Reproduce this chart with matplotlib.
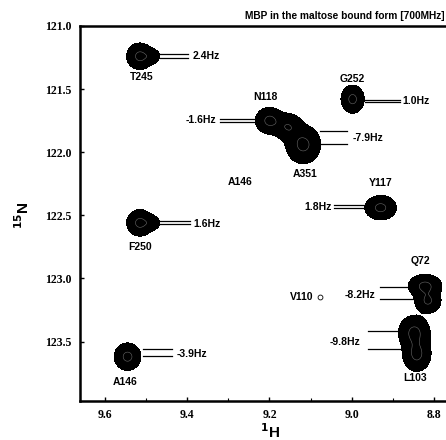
import numpy as np
import matplotlib
matplotlib.use("Agg")
import matplotlib.pyplot as plt

# peak centres (1H ppm, 15N ppm) and widths (ppm)
peak_h = [9.515, 9.485, 8.998, 9.200, 9.155, 9.118, 8.930, 9.515, 9.485, 8.822, 8.815, 8.848, 8.842, 9.545]
peak_n = [121.24, 121.24, 121.58, 121.75, 121.80, 121.94, 122.44, 122.56, 122.56, 123.06, 123.18, 123.43, 123.60, 123.62]
peak_wh = [0.016, 0.011, 0.014, 0.017, 0.018, 0.021, 0.019, 0.016, 0.011, 0.020, 0.016, 0.019, 0.017, 0.016]
peak_wn = [0.052, 0.032, 0.055, 0.052, 0.055, 0.075, 0.048, 0.052, 0.032, 0.046, 0.048, 0.068, 0.068, 0.054]
peak_amp = [1.0, 0.45, 1.0, 1.0, 0.8, 1.0, 1.0, 1.0, 0.45, 1.0, 0.9, 1.0, 1.0, 1.0]

# residue labels
res_names = ["T245", "G252", "N118", "A351", "A146", "Y117", "F250", "Q72", "L103", "A146"]
res_h = [9.510, 8.999, 9.211, 9.113, 9.272, 8.931, 9.515, 8.834, 8.846, 9.551]
res_n = [121.405, 121.42, 121.563, 122.175, 122.238, 122.246, 122.754, 122.865, 123.786, 123.817]

# coupling labels and their pairs of lines
hz_text = ["2.4Hz", "1.0Hz", "-1.6Hz", "-7.9Hz", "1.8Hz", "1.6Hz", "-8.2Hz", "-9.8Hz", "-3.9Hz"]
hz_h = [9.388, 8.877, 9.330, 8.999, 9.048, 9.386, 8.943, 8.980, 9.425]
hz_n = [121.238, 121.595, 121.746, 121.889, 122.437, 122.571, 123.135, 123.500, 123.595]
hz_ha = ["left", "left", "right", "left", "right", "left", "right", "right", "left"]
line_h0 = [9.466, 8.967, 9.320, 9.077, 9.043, 9.466, 8.931, 8.960, 9.508]
line_h1 = [9.398, 8.882, 9.235, 9.011, 8.967, 9.393, 8.846, 8.880, 9.437]
line_n1 = [121.222, 121.590, 121.738, 121.833, 122.420, 122.548, 123.071, 123.413, 123.556]
line_n2 = [121.254, 121.600, 121.762, 121.937, 122.444, 122.571, 123.167, 123.556, 123.611]

fig = plt.figure(figsize=(4.46, 4.40), dpi=100)
ax = fig.add_axes([0.179, 0.089, 0.821, 0.852])

H, N = np.meshgrid(np.linspace(8.75, 9.68, 500), np.linspace(120.95, 124.0, 500))
Z = np.zeros_like(H)
for h, n, wh, wn, a in zip(peak_h, peak_n, peak_wh, peak_wn, peak_amp):
    Z += a * np.exp(-0.5 * (((H - h) / wh) ** 2 + ((N - n) / wn) ** 2))
ax.contourf(H, N, Z, levels=[0.13, 100], colors="black")
ax.contour(H, N, Z, levels=[0.8], colors="#6a6a6a", linewidths=0.4)

for x0, x1, y1, y2 in zip(line_h0, line_h1, line_n1, line_n2):
    ax.plot([x0, x1], [y1, y1], color="black", lw=0.9)
    ax.plot([x0, x1], [y2, y2], color="black", lw=0.9)

font = dict(family="Liberation Sans", weight="bold", fontsize=7.5)
for t, x, y in zip(res_names, res_h, res_n):
    ax.text(x, y, t, ha="center", va="center", **font)
for t, x, y, ha in zip(hz_text, hz_h, hz_n, hz_ha):
    ax.text(x, y, t, ha=ha, va="center", **font)
ax.text(9.122, 123.15, "V110", ha="center", va="center", **font)
ax.plot([9.077], [123.15], "o", mfc="white", mec="black", ms=3.5, mew=0.6)

ax.set_xlim(9.661, 8.771)
ax.set_ylim(123.97, 121.0)
ax.set_xticks([9.6, 9.4, 9.2, 9.0, 8.8])
ax.set_xticks([9.5, 9.3, 9.1, 8.9], minor=True)
ax.set_yticks([121.0, 121.5, 122.0, 122.5, 123.0, 123.5])
ax.set_xticklabels(["9.6", "9.4", "9.2", "9.0", "8.8"])
ax.set_yticklabels(["121.0", "121.5", "122.0", "122.5", "123.0", "123.5"])
for lab in ax.get_xticklabels() + ax.get_yticklabels():
    lab.set_family("Liberation Serif")
    lab.set_fontweight("bold")
    lab.set_fontsize(8.5)
ax.tick_params(direction="in", length=3, width=1, pad=6)
ax.tick_params(which="minor", direction="in", length=2, width=0.8)
for s in ["left", "bottom", "top"]:
    ax.spines[s].set_linewidth(1.8)
ax.spines["right"].set_visible(False)

fig.text(0.605, 0.018, "$^{\\mathbf{1}}$H", ha="center", va="center",
         fontsize=11, fontweight="bold", family="Liberation Sans")
fig.text(0.05, 0.51, "$^{\\mathbf{15}}$N", rotation=90, ha="center", va="center",
         fontsize=11, fontweight="bold", family="Liberation Sans")
fig.text(0.998, 0.963, "MBP in the maltose bound form [700MHz]", ha="right", va="center",
         fontsize=7.3, fontweight="bold", family="Liberation Sans")

fig.savefig("out.png", dpi=100)
